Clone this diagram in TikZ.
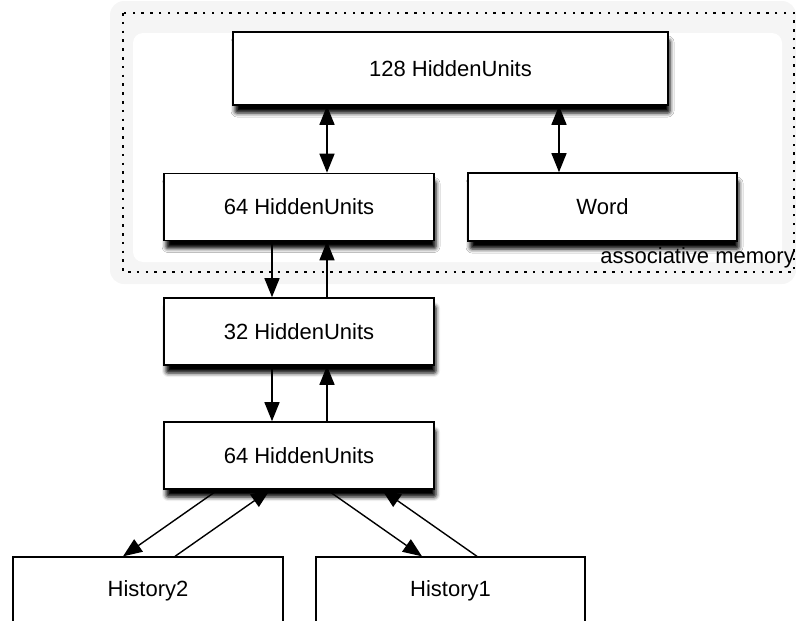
\documentclass[tikz,border=0pt]{standalone}
\usepackage{fontspec}
\setmainfont{Liberation Sans}
\usetikzlibrary{arrows.meta,shadows.blur}

\begin{document}
\begin{tikzpicture}[x=1pt,y=-1pt]
                \tikzstyle{unit}=[rectangle,draw=black,line width=1.6pt,fill=white,minimum height=67pt,inner sep=0pt,font=\fontsize{22}{26}\selectfont]
                \tikzstyle{shade}=[blur shadow={shadow xshift=2pt,shadow yshift=-8pt,shadow blur radius=4pt,shadow blur extra rounding=2pt,shadow opacity=100}]
                \tikzstyle{link}=[-{Triangle[length=19pt,width=15pt]},line width=1.4pt]
                \useasboundingbox (0,0) rectangle (796,621);

                % associative memory frame
                \fill[black!4,rounded corners=14pt] (110,1) rectangle (796,284);
                \fill[white,rounded corners=10pt] (133,33) rectangle (782,262);
                \draw[line width=1.6pt,dash pattern=on 2.5pt off 6.3pt] (123,13) rectangle (794,272);
                \node[anchor=base east,font=\fontsize{22}{26}\selectfont,inner sep=0pt] (memlabel) at (795,263) {associative memory};

                \node[unit,shade,minimum width=435pt,minimum height=73pt] (top) at (450.5,68.5) {128 HiddenUnits};
                \node[unit,shade,minimum width=269pt,minimum height=68pt] (word) at (602.5,207) {Word};
                \foreach \name/\y/\txt in {mem/207/64 HiddenUnits, mid/331.5/32 HiddenUnits, low/455.5/64 HiddenUnits}
                        \node[unit,shade,minimum width=270pt] (\name) at (299,\y) {\txt};

                \node[unit,line width=1.3pt,minimum width=270pt] (hist2) at (148,590.5) {History2};
                \node[unit,line width=1.3pt,minimum width=269pt] (hist1) at (450.5,590.5) {History1};

                \draw[link,{Triangle[length=19pt,width=15pt]}-{Triangle[length=19pt,width=15pt]}] ([xshift=28pt]mem.north) -- ([xshift=28pt]mem.north |- top.south);
                \draw[link,{Triangle[length=19pt,width=15pt]}-{Triangle[length=19pt,width=15pt]}] ([xshift=-43.5pt]word.north) -- ([xshift=-43.5pt]word.north |- top.south);

                \foreach \from/\to in {mem/mid, mid/low} {
                        \draw[link] ([xshift=-27pt]\from.south) -- ([xshift=-27pt]\to.north);
                        \draw[link] ([xshift=28pt]\to.north) -- ([xshift=28pt]\from.south);
                }

                \draw[link] ([xshift=-81pt]low.south) -- ([xshift=-25pt]hist2.north);
                \draw[link] ([xshift=27pt]hist2.north) -- ([xshift=-29pt]low.south);
                \draw[link] ([xshift=28pt]low.south) -- ([xshift=-28.5pt]hist1.north);
                \draw[link] ([xshift=26.5pt]hist1.north) -- ([xshift=83pt]low.south);
\end{tikzpicture}
\end{document}
